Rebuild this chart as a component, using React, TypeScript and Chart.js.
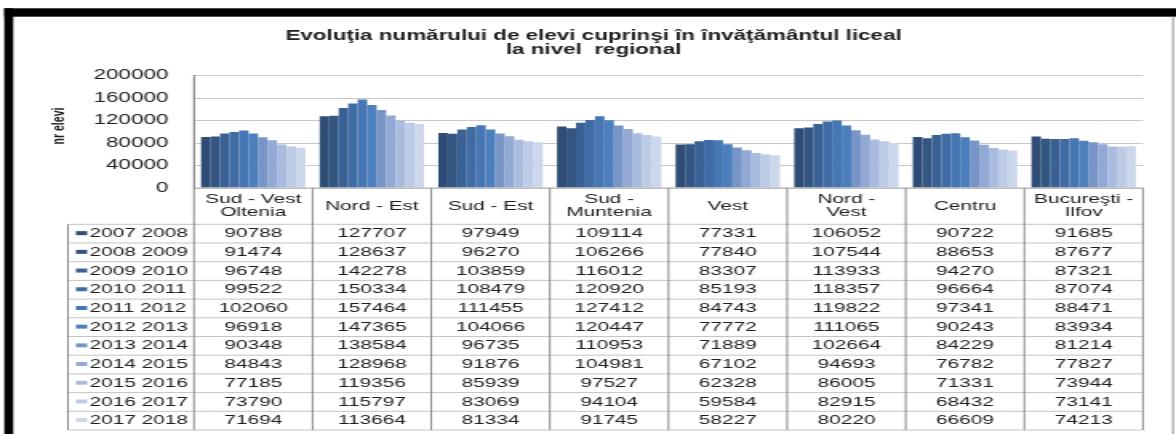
import React, { useEffect, useRef } from "react";
import { Chart, registerables } from "chart.js";

Chart.register(...registerables);

// ---------- data ----------
const titleLines = [
  "Evoluţia numărului de elevi cuprinşi în învăţământul liceal",
  "la nivel  regional",
];
const yAxisTitle = "nr elevi";
const categories = [
  ["Sud - Vest", "Oltenia"],
  ["Nord - Est"],
  ["Sud - Est"],
  ["Sud -", "Muntenia"],
  ["Vest"],
  ["Nord -", "Vest"],
  ["Centru"],
  ["Bucureşti -", "Ilfov"],
];
const years = [
  "2007 2008",
  "2008 2009",
  "2009 2010",
  "2010 2011",
  "2011 2012",
  "2012 2013",
  "2013 2014",
  "2014 2015",
  "2015 2016",
  "2016 2017",
  "2017 2018",
];
const s2007 = [90788, 127707, 97949, 109114, 77331, 106052, 90722, 91685];
const s2008 = [91474, 128637, 96270, 106266, 77840, 107544, 88653, 87677];
const s2009 = [96748, 142278, 103859, 116012, 83307, 113933, 94270, 87321];
const s2010 = [99522, 150334, 108479, 120920, 85193, 118357, 96664, 87074];
const s2011 = [102060, 157464, 111455, 127412, 84743, 119822, 97341, 88471];
const s2012 = [96918, 147365, 104066, 120447, 77772, 111065, 90243, 83934];
const s2013 = [90348, 138584, 96735, 110953, 71889, 102664, 84229, 81214];
const s2014 = [84843, 128968, 91876, 104981, 67102, 94693, 76782, 77827];
const s2015 = [77185, 119356, 85939, 97527, 62328, 86005, 71331, 73944];
const s2016 = [73790, 115797, 83069, 94104, 59584, 82915, 68432, 73141];
const s2017 = [71694, 113664, 81334, 91745, 58227, 80220, 66609, 74213];
const seriesValues = [s2007, s2008, s2009, s2010, s2011, s2012, s2013, s2014, s2015, s2016, s2017];
const yTicks = [0, 40000, 80000, 120000, 160000, 200000];

// ---------- style ----------
const seriesColors = [
  "#2e4c75",
  "#335682",
  "#3a6194",
  "#406ca6",
  "#4676b3",
  "#4b7fbd",
  "#7795c7",
  "#91a9d4",
  "#a9bcdf",
  "#bccbe6",
  "#ccd7eb",
];

const CSS_W = 1176;
const H = 434;
const W = 735; // canvas is drawn narrower and stretched horizontally by CSS
const PLOT_LEFT = 121.25;
const PLOT_RIGHT = 714.4;
const PLOT_TOP = 75.5;
const PLOT_BOTTOM = 188;
const TABLE_LEFT = 42.5;
const HEADER_BOTTOM = 224.3;
const ROW_H = 18.7;
const FONT = '"Liberation Sans", Arial, sans-serif';
const TEXT = "#1e1e1e";

const decorPlugin = {
  id: "decor",
  beforeDraw(chart: any) {
    const { ctx } = chart;
    ctx.save();
    ctx.fillStyle = "#ffffff";
    ctx.fillRect(0, 0, chart.width, chart.height);
    ctx.restore();
  },
  afterDraw(chart: any) {
    const { ctx, chartArea } = chart;
    const xs = chart.scales.x;
    const nCat = chart.data.labels.length;
    const nRows = chart.data.datasets.length;
    const left = chartArea.left;
    const right = chartArea.right;
    const colW = (right - left) / nCat;
    const tableBottom = HEADER_BOTTOM + nRows * ROW_H;

    ctx.save();
    // frame
    ctx.fillStyle = "#000";
    ctx.fillRect(2.7, 8.3, W - 2.7, 8.4);
    ctx.fillRect(2.7, 8.3, 5.6, H - 8.3);
    ctx.fillStyle = "#9c9c9c";
    ctx.fillRect(732.6, 16.7, 1.1, H - 16.7);

    // title
    ctx.fillStyle = TEXT;
    ctx.font = `bold 14px ${FONT}`;
    ctx.textAlign = "center";
    ctx.textBaseline = "alphabetic";
    ctx.fillText(titleLines[0], 371, 40);
    ctx.fillText(titleLines[1], 371, 53.5);

    // y axis title
    ctx.save();
    ctx.translate(37.5, 126);
    ctx.rotate(-Math.PI / 2);
    ctx.font = `bold 10.5px ${FONT}`;
    ctx.textBaseline = "middle";
    ctx.fillText(yAxisTitle, 0, 0);
    ctx.restore();

    // table lines
    ctx.lineWidth = 1;
    ctx.strokeStyle = "#c4c4c4";
    for (let k = 0; k <= nRows; k++) {
      const y = HEADER_BOTTOM + k * ROW_H;
      ctx.beginPath();
      ctx.moveTo(TABLE_LEFT, y);
      ctx.lineTo(right, y);
      ctx.stroke();
    }
    ctx.strokeStyle = "#b0b0b0";
    ctx.beginPath();
    ctx.moveTo(left, PLOT_BOTTOM);
    ctx.lineTo(right, PLOT_BOTTOM);
    ctx.stroke();
    ctx.strokeStyle = "#8a8a8a";
    for (let j = 0; j <= nCat; j++) {
      const x = left + j * colW;
      ctx.beginPath();
      ctx.moveTo(x, j === 0 ? PLOT_TOP : PLOT_BOTTOM);
      ctx.lineTo(x, tableBottom);
      ctx.stroke();
    }
    ctx.beginPath();
    ctx.moveTo(TABLE_LEFT, HEADER_BOTTOM);
    ctx.lineTo(TABLE_LEFT, tableBottom);
    ctx.stroke();

    // header labels
    ctx.fillStyle = TEXT;
    ctx.font = `13px ${FONT}`;
    ctx.textAlign = "center";
    ctx.textBaseline = "middle";
    const headerMid = (PLOT_BOTTOM + HEADER_BOTTOM) / 2;
    chart.data.labels.forEach((lab: string[], j: number) => {
      const x = xs.getPixelForValue(j);
      const lines = Array.isArray(lab) ? lab : [lab];
      const lh = 13;
      const y0 = headerMid - ((lines.length - 1) * lh) / 2;
      lines.forEach((t, k) => ctx.fillText(t, x, y0 + k * lh));
    });

    // rows
    chart.data.datasets.forEach((ds: any, i: number) => {
      const yc = HEADER_BOTTOM + (i + 0.5) * ROW_H;
      ctx.fillStyle = ds.backgroundColor;
      ctx.fillRect(47.5, yc - 2.5, 7, 4);
      ctx.fillStyle = TEXT;
      ctx.textAlign = "left";
      ctx.fillText(ds.label, 56, yc);
      ctx.textAlign = "center";
      ds.data.forEach((v: number, j: number) => {
        ctx.fillText(String(v), xs.getPixelForValue(j), yc);
      });
    });
    ctx.restore();
  },
};

export default function App() {
  const ref = useRef<HTMLCanvasElement | null>(null);

  useEffect(() => {
    document.body.style.margin = "0";
    const canvas = ref.current;
    if (!canvas) return;
    const chart = new Chart(canvas, {
      type: "bar",
      data: {
        labels: categories,
        datasets: years.map((y, i) => ({
          label: y,
          data: seriesValues[i],
          backgroundColor: seriesColors[i],
          borderWidth: 0,
          categoryPercentage: 0.88,
          barPercentage: 1.0,
        })),
      },
      options: {
        animation: false,
        responsive: false,
        devicePixelRatio: 1,
        layout: {
          padding: {
            left: 0,
            right: W - PLOT_RIGHT,
            top: PLOT_TOP,
            bottom: H - PLOT_BOTTOM,
          },
        },
        plugins: {
          legend: { display: false },
          title: { display: false },
          tooltip: { enabled: false },
        },
        scales: {
          x: { display: false, offset: true },
          y: {
            min: 0,
            max: 200000,
            afterBuildTicks: (s: any) => {
              s.ticks = yTicks.map((v) => ({ value: v }));
            },
            afterFit: (s: any) => {
              s.width = PLOT_LEFT;
            },
            ticks: {
              padding: 16,
              color: TEXT,
              font: { family: FONT, size: 14 },
              callback: (v: any) => String(v),
            },
            grid: { color: "#c8c8c8", lineWidth: 1, drawTicks: false },
            border: { display: true, color: "#8a8a8a", width: 1 },
          },
        },
      },
      plugins: [decorPlugin],
    });
    return () => chart.destroy();
  }, []);

  return (
    <div style={{ position: "fixed", left: 0, top: 0, width: CSS_W, height: H, background: "#fff" }}>
      <canvas
        ref={ref}
        width={W}
        height={H}
        style={{ width: `${CSS_W}px`, height: `${H}px`, display: "block" }}
      />
    </div>
  );
}
